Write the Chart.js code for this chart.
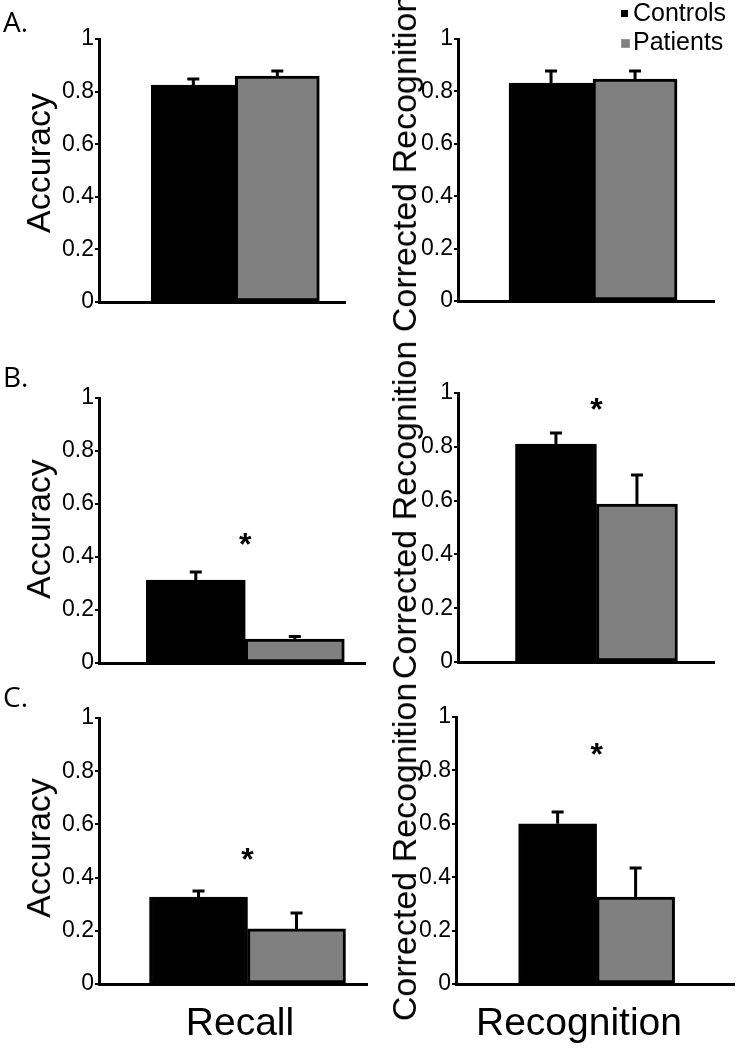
<!DOCTYPE html>
<html>
<head>
<meta charset="utf-8">
<title>Recall and recognition</title>
<script src="https://cdn.jsdelivr.net/npm/chart.js@4"></script>
<style>
  body { margin: 0; background: #fff; }
  #fig { position: relative; width: 753px; height: 1050px; overflow: hidden; font-family: "Liberation Sans", Arial, sans-serif; color: #000; }
  #fig canvas { position: absolute; }
  .letter { position: absolute; left: 3px; font-family: "Open Sans", sans-serif; font-size: 28px; line-height: 1; }
  .xlabel { position: absolute; font-size: 39px; line-height: 1; transform: translateX(-50%); white-space: nowrap; }
  .ytitle { position: absolute; font-size: 34px; line-height: 1; white-space: nowrap; transform: translate(-50%, -50%) rotate(-90deg); }
  .legend-row { position: absolute; left: 621px; font-size: 25px; line-height: 1; white-space: nowrap; }
  .legend-row span.box { position: absolute; left: 0; width: 7px; height: 7px; }
  .legend-row span.txt { position: absolute; left: 12px; top: 0; }
</style>
</head>
<body>
<div id="fig"></div>

<script>
/* ---------- DATA ---------- */
const groups = ['Controls', 'Patients'];
const groupColors = ['#000000', '#808080'];
const rowLetters = ['A.', 'B.', 'C.'];
const yTitles = ['Accuracy', 'Corrected Recognition'];
const xTitles = ['Recall', 'Recognition'];
const yTicks = [0, 0.2, 0.4, 0.6, 0.8, 1];

// panel order: A recall, A recognition, B recall, B recognition, C recall, C recognition
const controlsMean = [0.825, 0.832, 0.313, 0.810, 0.327, 0.600];
const controlsErr  = [0.023, 0.046, 0.030, 0.041, 0.023, 0.044];
const patientsMean = [0.859, 0.847, 0.090, 0.587, 0.207, 0.326];
const patientsErr  = [0.019, 0.031, 0.010, 0.108, 0.060, 0.108];
const starLevel    = [null, null, 0.475, 0.967, 0.496, 0.888];

/* ---------- LAYOUT (page pixels) ---------- */
// box: canvas [left, top, width, height]; area: plot [left, top, right, bottom]
const panels = [
  { box: [0, 0, 376, 345],     area: [99, 39, 345, 302],   barPos: 0.565, barW: 84, title: [38, 163] },
  { box: [376, 0, 377, 345],   area: [458, 39, 714, 301],  barPos: 0.533, barW: 84, title: [404, 163] },
  { box: [0, 345, 376, 355],   area: [99, 398, 365, 663],  barPos: 0.560, barW: 99, title: [38, 529] },
  { box: [376, 345, 377, 355], area: [458, 393, 714, 662], barPos: 0.549, barW: 81, title: [404, 510] },
  { box: [0, 675, 376, 375],   area: [99, 718, 367, 984],  barPos: 0.565, barW: 98, title: [38, 848] },
  { box: [376, 675, 377, 375], area: [456, 717, 734, 984], barPos: 0.507, barW: 78, title: [404, 852] }
];
const FONT = '"Liberation Sans", Arial, sans-serif';

const fig = document.getElementById('fig');

/* ---------- ERROR BARS + STARS ---------- */
const errorBars = {
  id: 'errorBars',
  afterDatasetsDraw(chart, args, opts) {
    const { ctx } = chart;
    const y = chart.scales.y, x = chart.scales.x;
    ctx.save();
    ctx.strokeStyle = '#000';
    ctx.lineWidth = 3;
    chart.data.datasets.forEach((ds, di) => {
      chart.getDatasetMeta(di).data.forEach((bar, i) => {
        const top = y.getPixelForValue(ds.data[i].y + ds.errors[i]);
        ctx.beginPath();
        ctx.moveTo(bar.x, bar.y);
        ctx.lineTo(bar.x, top);
        ctx.moveTo(bar.x - 6, top);
        ctx.lineTo(bar.x + 6, top);
        ctx.stroke();
      });
    });
    if (opts.star != null) {
      ctx.fillStyle = '#000';
      ctx.font = 'bold 32px ' + FONT;
      ctx.textAlign = 'center';
      ctx.textBaseline = 'alphabetic';
      ctx.fillText('*', x.getPixelForValue(opts.starX), y.getPixelForValue(opts.star) + 18);
    }
    ctx.restore();
  }
};

/* ---------- CHARTS ---------- */
const means = [controlsMean, patientsMean];
const errs = [controlsErr, patientsErr];

panels.forEach((p, i) => {
  const col = i % 2;
  const [bl, bt, bw, bh] = p.box;
  const [al, at, ar, ab] = p.area;

  const canvas = document.createElement('canvas');
  canvas.width = bw;
  canvas.height = bh;
  canvas.style.left = bl + 'px';
  canvas.style.top = bt + 'px';
  canvas.style.width = bw + 'px';
  canvas.style.height = bh + 'px';
  fig.appendChild(canvas);

  new Chart(canvas, {
    type: 'bar',
    data: {
      datasets: groups.map((g, gi) => ({
        label: g,
        data: [{ x: p.barPos, y: means[gi][i] }],
        errors: [errs[gi][i]],
        backgroundColor: groupColors[gi],
        borderColor: '#000',
        borderWidth: 3,
        borderSkipped: false,
        barThickness: p.barW
      }))
    },
    options: {
      responsive: false,
      animation: false,
      events: [],
      layout: { padding: { left: 0, top: at - bt, right: bl + bw - ar, bottom: bt + bh - ab } },
      plugins: {
        legend: { display: false },
        tooltip: { enabled: false },
        errorBars: { star: starLevel[i], starX: p.barPos }
      },
      scales: {
        x: {
          type: 'linear', min: 0, max: 1,
          ticks: { display: false },
          grid: { display: false },
          border: { display: true, width: 3, color: '#000' },
          afterFit: s => { s.height = 0; }
        },
        y: {
          min: 0, max: 1,
          afterBuildTicks: s => { s.ticks = yTicks.map(v => ({ value: v })); },
          afterFit: s => { s.width = al - bl; },
          ticks: {
            color: '#000', padding: 1,
            font: { family: FONT, size: 23 },
            callback: v => String(+v.toFixed(1))
          },
          grid: { display: true, drawOnChartArea: false, drawTicks: true, tickLength: 4, color: '#000', lineWidth: 2 },
          border: { display: true, width: 3, color: '#000' }
        }
      }
    },
    plugins: [errorBars]
  });

  const t = document.createElement('div');
  t.className = 'ytitle';
  t.style.left = p.title[0] + 'px';
  t.style.top = p.title[1] + 'px';
  t.textContent = yTitles[col];
  fig.appendChild(t);
});

/* ---------- TEXT ---------- */
const letterTops = [7, 362, 682];
rowLetters.forEach((t, r) => {
  const d = document.createElement('div');
  d.className = 'letter';
  d.style.top = letterTops[r] + 'px';
  d.textContent = t;
  fig.appendChild(d);
});

const xLabelCenters = [240, 579];
xTitles.forEach((t, c) => {
  const d = document.createElement('div');
  d.className = 'xlabel';
  d.style.left = xLabelCenters[c] + 'px';
  d.style.top = '1002px';
  d.textContent = t;
  fig.appendChild(d);
});

const legendTops = [0, 29];
groups.forEach((g, gi) => {
  const row = document.createElement('div');
  row.className = 'legend-row';
  row.style.top = legendTops[gi] + 'px';
  row.innerHTML = '<span class="box"></span><span class="txt"></span>';
  const box = row.querySelector('.box');
  box.style.background = groupColors[gi];
  box.style.top = '10px';
  if (gi > 0) box.style.border = '1px solid #999';
  row.querySelector('.txt').textContent = g;
  fig.appendChild(row);
});
</script>
</body>
</html>
